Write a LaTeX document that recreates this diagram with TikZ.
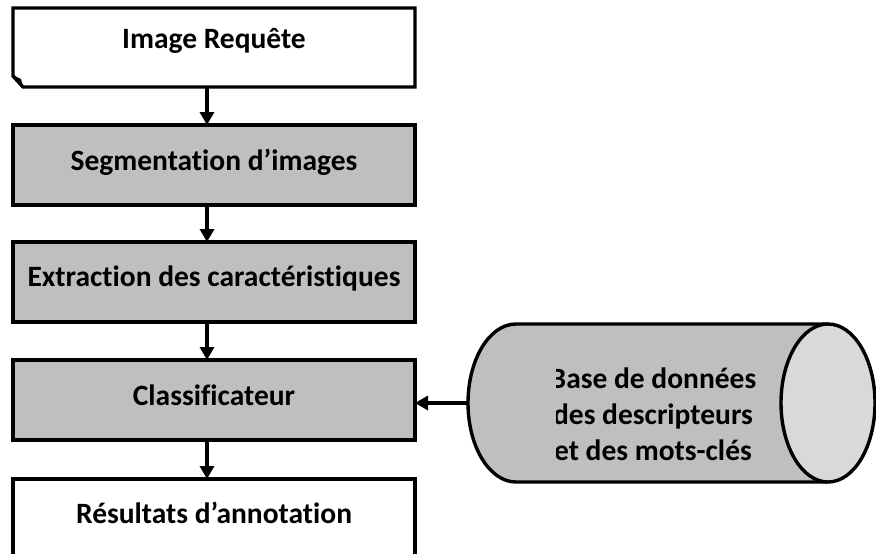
\documentclass[tikz,border=0pt]{standalone}
\usepackage{fontspec}
\setmainfont{Carlito}[Ligatures={NoCommon}]
\usetikzlibrary{arrows.meta}
\definecolor{boxgray}{HTML}{BFBFBF}
\definecolor{capgray}{HTML}{D9D9D9}
\tikzset{
  lbl/.style={font=\bfseries\fontsize{29.5}{36}\selectfont, inner sep=0pt},
  frame/.style={line width=3.4pt, line join=miter},
  flow/.style={line width=3.4pt, -{Triangle[width=14pt,length=13pt]}},
}
\begin{document}
\begin{tikzpicture}[x=1pt,y=-1pt]
\useasboundingbox (0,0) rectangle (876,554);

% query image box with a folded lower-left corner
\draw[frame, fill=white] (13,8) -- (415,8) -- (415,87) -- (23,87) -- (13,76) -- cycle;
\fill (13,75) -- (21,79) -- (23,87) -- cycle;
\node[lbl] (req) at (214,41) {Image Requête};
\coordinate (reqB) at (207,87);

% processing steps
\draw[frame, fill=boxgray] (13,125) rectangle (415,205);
\node[lbl] (seg) at (214,162) {Segmentation d’images};
\coordinate (segT) at (207,125);
\coordinate (segB) at (207,205);

\draw[frame, fill=boxgray] (13,242) rectangle (415,322);
\node[lbl] (ext) at (214,278) {Extraction des caractéristiques};
\coordinate (extT) at (207,242);
\coordinate (extB) at (207,322);

\draw[frame, fill=boxgray] (13,360) rectangle (415,440);
\node[lbl] (cls) at (214,395) {Classificateur};
\coordinate (clsT) at (207,360);
\coordinate (clsB) at (207,440);
\coordinate (clsR) at (415,403);

\draw[frame, fill=white] (13,600) -- (13,479) -- (415,479) -- (415,600);
\node[lbl] (res) at (214,513) {Résultats d’annotation};
\coordinate (resT) at (207,479);

% database cylinder
\draw[frame, fill=boxgray] (828,324) -- (516,324) arc[start angle=270, end angle=90, x radius=48, y radius=79] -- (828,482);
\draw[frame, fill=capgray] (828,403) ellipse[x radius=47, y radius=79];
\coordinate (dbL) at (468,403);
\begin{scope}
  \clip (556,330) rectangle (800,480);
  \node[lbl, align=center] (db) at (653,414)
    {Base de données\\des descripteurs\\et des mots-clés};
\end{scope}

% connectors
\draw[flow] (reqB) -- (segT);
\draw[flow] (segB) -- (extT);
\draw[flow] (extB) -- (clsT);
\draw[flow] (clsB) -- (resT);
\draw[flow] (dbL) -- (clsR);
\end{tikzpicture}
\end{document}
